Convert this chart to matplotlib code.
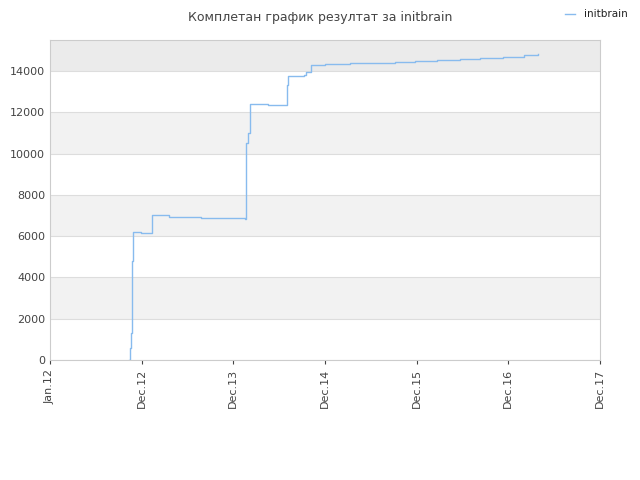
import matplotlib
matplotlib.use("Agg")
import matplotlib.pyplot as plt

tick_labels = ["Jan.12", "Dec.12", "Dec.13", "Dec.14", "Dec.15", "Dec.16", "Dec.17"]
# x in tick-position units (0 = Jan.12, 1 = Dec.12, ...)
xs = [0.86, 0.87, 0.88, 0.89, 0.90, 0.91, 0.99, 1.10, 1.11, 1.30, 1.65, 2.13, 2.14, 2.16, 2.18,
      2.38, 2.57, 2.58, 2.60, 2.77, 2.79, 2.85, 3.00, 3.27, 3.76, 3.98, 4.22, 4.47, 4.69, 4.94, 5.17, 5.32]
ys = [0, 600, 1300, 4800, 6200, 6200, 6150, 6150, 7000, 6950, 6900, 6850, 10500, 11000, 12400,
      12350, 12350, 13300, 13750, 13800, 13950, 14300, 14350, 14400, 14450, 14500, 14550, 14600,
      14650, 14700, 14750, 14800]

fig = plt.figure(figsize=(6.4, 4.8), dpi=100)
ax = fig.add_axes([50/640, 120/480, 550/640, 320/480])
ymax = 15500
for i, lo in enumerate(range(0, 16000, 2000)):
    hi = min(lo + 2000, ymax)
    if lo >= 14000:
        c = "#ebebeb"
    else:
        c = "#f2f2f2" if i % 2 == 1 else "white"
    ax.axhspan(lo, hi, color=c, zorder=0, lw=0)
    ax.axhline(lo, color="#dddddd", lw=0.8, zorder=0.5)
ax.step(xs, ys, where="post", color="#88bbee", lw=1, label="initbrain", zorder=2)
ax.set_xlim(0, 6)
ax.set_ylim(0, ymax)
ax.set_xticks(range(7))
ax.set_xticklabels(tick_labels, rotation=90, fontsize=8, color="#444444")
ax.set_yticks(range(0, 16000, 2000))
ax.tick_params(axis="y", labelsize=8, colors="#444444", length=0)
ax.tick_params(axis="x", colors="#444444", length=3)
for s in ax.spines.values():
    s.set_color("#cccccc")
fig.text(0.5, 0.978, "Комплетан график резултат за initbrain", ha="center", va="top",
         fontsize=9, color="#444444")
fig.legend(loc="upper right", bbox_to_anchor=(0.995, 1.0), frameon=False, fontsize=7.5,
           handlelength=1, labelcolor="#222222")
fig.savefig("out.png")
